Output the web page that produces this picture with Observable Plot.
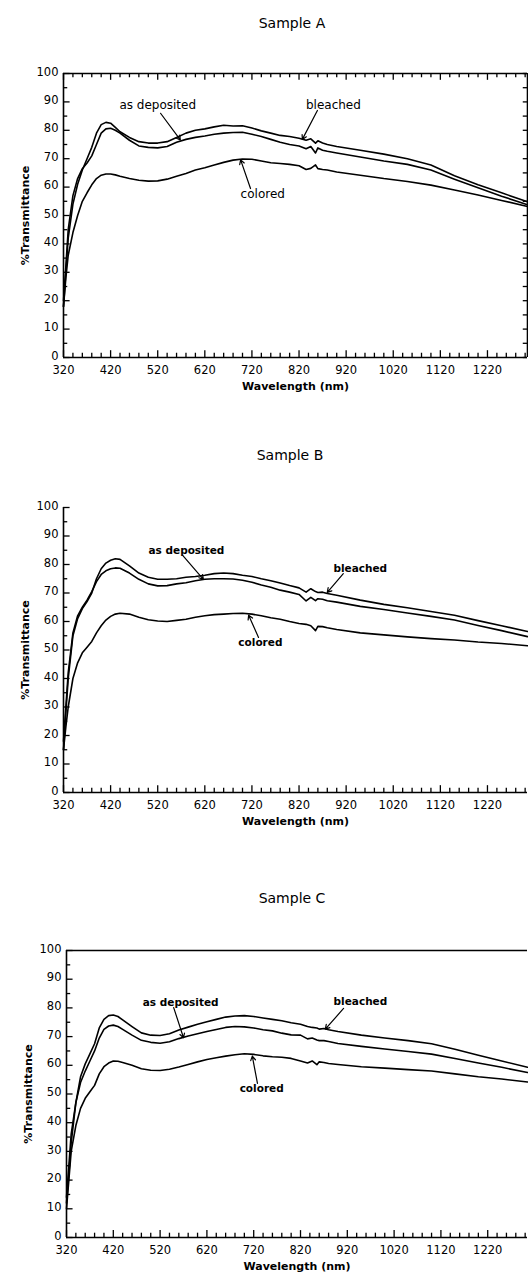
<!DOCTYPE html>
<html>
<head>
<meta charset="utf-8">
<script src="https://cdn.jsdelivr.net/npm/d3@7"></script>
<script src="https://cdn.jsdelivr.net/npm/@observablehq/plot@0.6"></script>
<style>
  html, body { margin: 0; padding: 0; background: #fff; }
  body { width: 528px; height: 1273px; position: relative; overflow: hidden; font-family: "DejaVu Sans", sans-serif; color: #000; }
  .title { position: absolute; width: 200px; text-align: center; font-size: 14px; line-height: 16px; }
  .panel { position: absolute; left: 0; }
</style>
</head>
<body>
<script>
// ---------------- data ----------------
const wavelengths = [320,325,330,340,350,360,370,380,390,400,410,420,430,440,460,480,500,520,540,560,580,600,620,640,660,680,700,720,740,760,780,800,820,835,845,855,860,870,880,900,950,1000,1050,1100,1150,1200,1250,1305];

const aBleached  = [18,30,42,54,61,66,70,74,79,82,82.8,82.5,81,79.5,77.5,76,75.5,75.5,76,77.5,79,80,80.5,81.2,81.8,81.5,81.6,80.8,79.8,79,78.2,77.8,77.2,76.5,77,75.5,76.3,75.5,75,74.3,73,71.6,70,67.8,64,60.8,58,54.8];
const aDeposited = [20,32,45,57,63,66.5,68.5,71,75,79,80.5,80.7,80,79,76.5,74.5,74,73.8,74.3,75.8,76.8,77.5,78,78.6,79,79.2,79.3,78.6,77.8,76.8,75.8,75,74.5,73.5,74.3,72,73.8,73,72.6,72,70.6,69.2,68,66,62.8,59.8,56.8,53.8];
const aColored   = [18,28,36,44,50,55,58,60.8,63,64.2,64.6,64.6,64.3,63.8,63,62.4,62.1,62.2,62.8,63.8,64.8,66,66.8,67.8,68.7,69.5,69.9,69.8,69.2,68.6,68.3,68,67.5,66.2,66.6,67.8,66.5,66.2,66,65.3,64.2,63,62,60.7,59,57.2,55.3,53.2];

const bBleached  = [15,28,40,55,61,64.5,67,70,75,78.5,80.5,81.5,82,81.8,79.5,77,75.5,74.8,74.8,75,75.5,75.8,76.2,76.8,77,76.8,76.2,75.8,75,74.3,73.5,72.6,71.8,70.3,71.5,70.5,70.2,70.3,69.8,69.2,67.5,66,64.8,63.5,62.2,60.3,58.5,56.5];
const bDeposited = [18,30,42,56,62,65,67.5,70.5,74,76.5,77.8,78.5,78.8,78.7,77,74.8,73.2,72.5,72.6,73.2,73.6,74.3,74.8,75,75,74.9,74.5,73.8,72.8,72,71,70.3,69.5,67.2,68.5,67.3,68,67.8,67.3,66.8,65.3,64.2,63,61.8,60.5,58.6,56.8,54.7];
const bColored   = [15,23,30,40,45.5,49,51,53,56,58.5,60.5,61.8,62.6,62.9,62.6,61.5,60.6,60.2,60,60.4,60.8,61.5,62,62.4,62.6,62.8,62.9,62.6,62,61.3,60.8,60,59.3,59,58.5,56.8,58.3,58.2,57.8,57.2,56,55.3,54.6,54,53.5,52.8,52.3,51.5];

const cBleached  = [12,22,33,47,56,60.5,64,67.5,73,76,77.3,77.5,77,75.8,73.5,71.3,70.5,70.4,71,72.3,73.3,74.3,75.2,76,76.8,77.2,77.3,77,76.5,76,75.5,74.8,74.3,73.5,73.2,73,72.6,72.8,72.4,71.8,70.5,69.5,68.6,67.5,65.6,63.5,61.5,59.3];
const cDeposited = [14,25,36,47,54,58,61.5,65,69.5,72.5,73.7,74,73.5,72.5,70.5,68.7,68,67.7,68.2,69.3,70.2,71,71.8,72.5,73.2,73.5,73.4,73,72.4,72,71.2,70.6,70.5,69.2,69.5,68.8,68.6,68.6,68.3,67.6,66.6,65.7,64.8,63.9,62.4,60.8,59.3,57.5];
const cColored   = [10,20,30,39,45,48.5,50.8,53,57,59.5,60.8,61.5,61.4,61,60,58.8,58.3,58.2,58.6,59.4,60.3,61.2,62,62.6,63.2,63.7,64,63.8,63.3,63,62.8,62.4,61.5,60.8,61.5,60.2,61.2,61,60.6,60.3,59.5,59,58.5,58,57,56,55.2,54.2];

const seriesNames = ["as deposited", "bleached", "colored"];
const panelTitles = ["Sample A", "Sample B", "Sample C"];
const xTickLabels = [320,420,520,620,720,820,920,1020,1120,1220];
const yTickLabels = [0,10,20,30,40,50,60,70,80,90,100];

// annotation text positions (wavelength, %T) and arrows [from -> to]
const aLabels = [{t:"as deposited", w:520, v:89}, {t:"bleached", w:893, v:89}, {t:"colored", w:743, v:57.4}];
const aArrows = [{w1:526, v1:86, w2:568, v2:76.6}, {w1:859, v1:87, w2:827, v2:76.8}, {w1:717, v1:59.5, w2:696, v2:69.6}];
const bLabels = [{t:"as deposited", w:581, v:84.9}, {t:"bleached", w:950, v:78.6}, {t:"colored", w:738, v:52.6}];
const bArrows = [{w1:573, v1:83.2, w2:617, v2:74.8}, {w1:914, v1:76.8, w2:880, v2:70.2}, {w1:734, v1:54.4, w2:713, v2:62.2}];
const cLabels = [{t:"as deposited", w:564, v:81.9}, {t:"bleached", w:948, v:82.2}, {t:"colored", w:737, v:51.9}];
const cArrows = [{w1:549, v1:80.1, w2:570, v2:69.6}, {w1:912, v1:79.8, w2:873, v2:72.6}, {w1:728, v1:53.7, w2:717, v2:63.2}];

// ---------------- drawing ----------------
const X_MAX = 1305;

function makePanel(cfg) {
  const rows = [];
  [cfg.deposited, cfg.bleached, cfg.colored].forEach((vals, k) => {
    wavelengths.forEach((w, i) => rows.push({w, v: vals[i], name: seriesNames[k]}));
  });
  const xMinor = d3.range(320, X_MAX, 20);
  const yMinor = d3.range(0, 101, 5);
  const marks = [
    Plot.axisX(xTickLabels, {tickSize: 0, tickPadding: 8, fontSize: 11.5, tickFormat: d => String(d), label: "Wavelength (nm)", labelAnchor: "center", labelOffset: 32, labelArrow: "none"}),
    Plot.axisY(yTickLabels, {tickSize: 0, tickPadding: 5, fontSize: 11.5, dy: -1.5, tickFormat: d => String(d), label: "%Transmittance", labelAnchor: "center", labelOffset: 42, labelArrow: "none"}),
    // bottom & left axis lines
    Plot.ruleY([0], {strokeWidth: 1.6}),
    Plot.ruleX([320], {strokeWidth: 1.6}),
    // bottom ticks (inward)
    Plot.ruleX(xMinor, {y1: 0, y2: d => (d - 320) % 100 === 0 ? 2.4 : 1.5, strokeWidth: 1.3}),
    // left ticks (inward)
    Plot.ruleY(yMinor, {x1: 320, x2: d => d % 10 === 0 ? 334 : 329, strokeWidth: 1.3}),
    Plot.line(rows, {x: "w", y: "v", z: "name", stroke: "#000", strokeWidth: 1.6, curve: "linear"}),
    Plot.text(cfg.labels, {x: "w", y: "v", text: "t", fontSize: cfg.labelSize, fontWeight: cfg.labelWeight, fill: "#000"}),
    Plot.arrow(cfg.arrows, {x1: "w1", y1: "v1", x2: "w2", y2: "v2", stroke: "#000", strokeWidth: 1.2, headLength: 6, bend: false})
  ];
  if (cfg.frameTop) {
    marks.push(Plot.ruleY([100], {strokeWidth: 1.6}));
    if (cfg.topTicks) marks.push(Plot.ruleX(xMinor, {y1: 100, y2: d => (d - 320) % 100 === 0 ? 97.6 : 98.5, strokeWidth: 1.3}));
  }
  if (cfg.frameRight) {
    marks.push(Plot.ruleX([X_MAX], {strokeWidth: 1.6}));
    marks.push(Plot.ruleY(yMinor, {x1: X_MAX - 9, x2: X_MAX, strokeWidth: 1.3}));
  }
  const svg = Plot.plot({
    width: 528,
    height: cfg.height,
    marginTop: cfg.mt,
    marginBottom: cfg.mb,
    marginLeft: cfg.ml,
    marginRight: 1,
    x: {domain: [320, X_MAX]},
    y: {domain: [0, 100]},
    style: {fontFamily: "DejaVu Sans, sans-serif", fontSize: "12px", color: "#000", background: "transparent", overflow: "visible"},
    marks
  });
  svg.classList.add("panel");
  svg.style.top = cfg.top + "px";
  svg.querySelectorAll('g[aria-label="x-axis label"] text, g[aria-label="y-axis label"] text').forEach(t => {
    t.setAttribute("font-size", "11px");
    t.setAttribute("font-weight", "bold");
  });
  document.body.appendChild(svg);

  const title = document.createElement("div");
  title.className = "title";
  title.textContent = cfg.title;
  title.style.left = (cfg.titleX - 100) + "px";
  title.style.top = (cfg.titleY - 8) + "px";
  document.body.appendChild(title);
}

makePanel({title: panelTitles[0], titleX: 292, titleY: 23, top: 38, height: 362, mt: 35, mb: 43, ml: 63,
  deposited: aDeposited, bleached: aBleached, colored: aColored, labels: aLabels, arrows: aArrows,
  frameTop: true, topTicks: true, frameRight: true, labelSize: 12, labelWeight: "normal"});
makePanel({title: panelTitles[1], titleX: 290, titleY: 455, top: 472, height: 365, mt: 35, mb: 45, ml: 63,
  deposited: bDeposited, bleached: bBleached, colored: bColored, labels: bLabels, arrows: bArrows,
  frameTop: false, frameRight: false, labelSize: 10.5, labelWeight: "bold"});
makePanel({title: panelTitles[2], titleX: 292, titleY: 898, top: 915, height: 358, mt: 35, mb: 36, ml: 66,
  deposited: cDeposited, bleached: cBleached, colored: cColored, labels: cLabels, arrows: cArrows,
  frameTop: true, topTicks: false, frameRight: false, labelSize: 10.5, labelWeight: "bold"});
</script>
</body>
</html>
